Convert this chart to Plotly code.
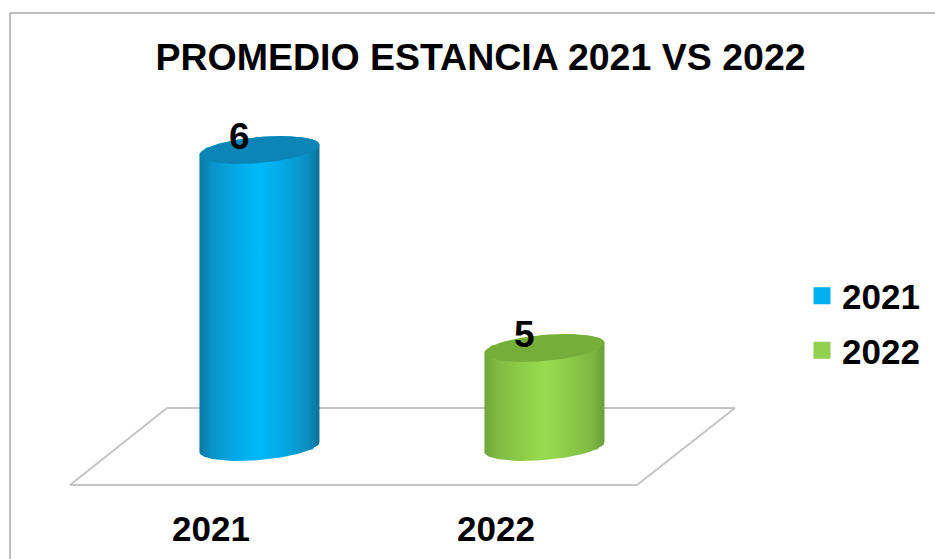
import numpy as np
import plotly.graph_objects as go

CATEGORIES = ["2021", "2022"]
VALUES = [6, 5]
TITLE = "PROMEDIO ESTANCIA 2021 VS 2022"
BAR_COLORS = ["#00B0F0", "#92D050"]
BODY_SCALES = [
    [[0, "#0A78A2"], [0.1, "#0A93C8"], [0.3, "#05A8E4"], [0.5, "#00BAFA"], [0.7, "#05A8E4"], [0.9, "#0A8FC2"], [1, "#0A7099"]],
    [[0, "#6CA63A"], [0.1, "#7FBB42"], [0.3, "#8CCB48"], [0.5, "#99DC50"], [0.7, "#8CCB48"], [0.9, "#7DB842"], [1, "#689F38"]],
]
TOP_COLORS = ["#0A85B6", "#76AE3C"]

W, H = 935, 559
PLOT_H = 508
BASE = 4.5
PX_PER_X = 285.0
PX_PER_Y = 198.0
X_OFFSET = 0.17
BAR_W_PX = 120.0
X_RANGE = [-211 / PX_PER_X, (W - 211) / PX_PER_X]
Y_RANGE = [6 - (PLOT_H - 150) / PX_PER_Y, 6 + 150 / PX_PER_Y]
FS = 35
FS_TITLE = 37.5
FS_LABEL = 37
FONT = "Liberation Sans"


def px(x):
    return x / W


def py(y):
    return (PLOT_H - y) / PLOT_H


def ellipse(t, cx, cy):
    a, b, s = BAR_W_PX / 2, 13.0, 5.0
    return (cx + a * np.cos(t) / PX_PER_X, cy + (b * np.sin(t) + s * np.cos(t)) / PX_PER_Y)


fig = go.Figure()
for i, (cat, val, col) in enumerate(zip(CATEGORIES, VALUES, BAR_COLORS)):
    cx = i + X_OFFSET
    fig.add_trace(go.Bar(
        x=[cx], y=[val - BASE], base=BASE, width=0.36, name=cat, legendgroup=cat,
        marker=dict(color=col, line=dict(color=col, width=5)), hoverinfo="skip",
    ))
    t_top = np.linspace(np.pi, 0, 40)
    t_bot = np.linspace(0, -np.pi, 40)
    xb, yb = ellipse(t_top, cx, val)
    xc, yc = ellipse(t_bot, cx, BASE)
    fig.add_trace(go.Scatter(
        x=np.r_[xb, xc, xb[0]], y=np.r_[yb, yc, yb[0]], mode="lines", fill="toself",
        line=dict(width=0, color=col), showlegend=False, hoverinfo="skip",
        fillgradient=dict(type="horizontal", colorscale=BODY_SCALES[i]),
    ))
    t = np.linspace(0, 2 * np.pi, 80)
    xt, yt = ellipse(t, cx, val)
    fig.add_trace(go.Scatter(
        x=xt, y=yt, mode="lines", fill="toself", fillcolor=TOP_COLORS[i],
        line=dict(width=0, color=TOP_COLORS[i]), showlegend=False, hoverinfo="skip",
    ))
    fig.add_annotation(
        x=cx, y=val, xref="x", yref="y", text=str(val), showarrow=False,
        xshift=-20, yshift=14, font=dict(family=FONT, size=FS_LABEL, color="#000000", weight=700),
    )

line_gray = dict(color="#C4C4C4", width=2)
floor = [(167, 408), (735, 408), (637, 485), (70, 485)]
shapes = []
for (a, b) in zip(floor, floor[1:] + floor[:1]):
    shapes.append(dict(type="line", xref="paper", yref="paper", layer="below",
                       x0=px(a[0]), y0=py(a[1]), x1=px(b[0]), y1=py(b[1]), line=line_gray))
border = dict(color="#A6A6A6", width=1.5)
shapes.append(dict(type="line", xref="paper", yref="paper", layer="below",
                   x0=px(10), y0=py(13), x1=px(W), y1=py(13), line=border))
shapes.append(dict(type="line", xref="paper", yref="paper", layer="below",
                   x0=px(10), y0=py(13), x1=px(10), y1=py(H), line=border))

fig.update_layout(
    width=W, height=H, margin=dict(l=0, r=0, t=0, b=H - PLOT_H),
    paper_bgcolor="#FFFFFF", plot_bgcolor="rgba(0,0,0,0)",
    barmode="overlay", shapes=shapes,
    title=dict(text=TITLE, x=480.5 / W, xanchor="center", xref="paper",
               y=(H - 57) / H, yanchor="middle", yref="container",
               font=dict(family=FONT, size=FS_TITLE, color="#000000", weight=700)),
    xaxis=dict(range=X_RANGE, tickvals=[0, 1], ticktext=CATEGORIES, showgrid=False,
               zeroline=False, showline=False, ticks="", ticklabelstandoff=-3,
               tickfont=dict(family=FONT, size=FS, color="#000000", weight=700)),
    yaxis=dict(range=Y_RANGE, visible=False, showgrid=False, zeroline=False),
    legend=dict(x=802 / W, xanchor="left", y=py(323), yanchor="middle",
                font=dict(family=FONT, size=FS, color="#000000", weight=700),
                tracegroupgap=6, bgcolor="rgba(0,0,0,0)"),
)
fig.write_html("out.html", config=dict(displayModeBar=False),
               post_script="document.body.style.margin='0';")
